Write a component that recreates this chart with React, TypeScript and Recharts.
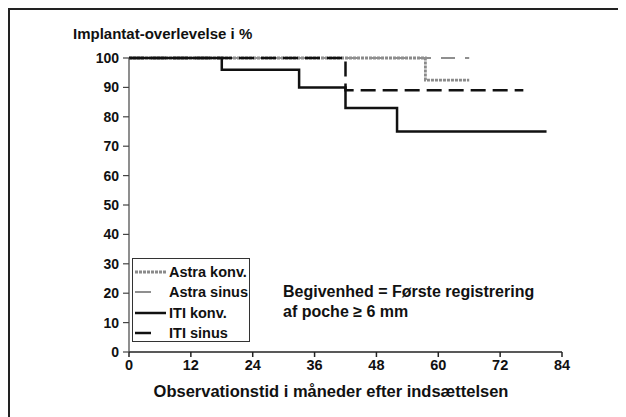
import React from 'react';
import { LineChart, Line, XAxis, YAxis } from 'recharts';

// Kaplan-Meier style survival curves (months, % surviving)
const astraKonvTime = [0, 57.5, 66];
const astraKonvSurv = [100, 92.5, 92.5];
const astraSinusTime = [0, 66];
const astraSinusSurv = [100, 100];
const itiKonvTime = [0, 18, 33, 42, 52, 81];
const itiKonvSurv = [100, 96, 90, 83, 75, 75];
const itiSinusTime = [0, 42, 76.5];
const itiSinusSurv = [100, 89, 89];

const xTicks = [0, 12, 24, 36, 48, 60, 72, 84];
const yTicks = [0, 10, 20, 30, 40, 50, 60, 70, 80, 90, 100];

const toRows = (t: number[], s: number[]) => t.map((m, i) => ({ m, v: s[i] }));

const FONT = '"Liberation Sans", Arial, sans-serif';

const series = [
    { name: 'Astra konv.', data: toRows(astraKonvTime, astraKonvSurv), stroke: '#8a8a8a', width: 2.8, dash: '3 1', sample: 'full' },
    { name: 'Astra sinus', data: toRows(astraSinusTime, astraSinusSurv), stroke: '#8f8f8f', width: 2, dash: '14 10', sample: 'short' },
    { name: 'ITI konv.', data: toRows(itiKonvTime, itiKonvSurv), stroke: '#111', width: 2.5, dash: undefined, sample: 'full' },
    { name: 'ITI sinus', data: toRows(itiSinusTime, itiSinusSurv), stroke: '#111', width: 2.5, dash: '15 7', sample: 'short' },
];

const tickStyle = { fill: '#111', fontSize: 14, fontWeight: 700, fontFamily: FONT };

export default function App() {
    return (
        <div
            style={{
                position: 'relative',
                width: 618,
                height: 409,
                boxSizing: 'border-box',
                borderLeft: '2px solid #222',
                borderTop: '2px solid #222',
                background: '#fff',
                fontFamily: FONT,
                color: '#111',
            }}
        >
            <div style={{ position: 'absolute', left: 63, top: 15, fontSize: 15, fontWeight: 700 }}>
                Implantat-overlevelse i %
            </div>
            <LineChart
                width={600}
                height={400}
                margin={{ top: 48, right: 48, left: 59, bottom: 28 }}
                style={{ position: 'absolute', left: 0, top: 0 }}
            >
                <XAxis
                    dataKey="m"
                    type="number"
                    domain={[0, 84]}
                    ticks={xTicks}
                    allowDuplicatedCategory={false}
                    height={30}
                    tickSize={5}
                    tickMargin={3}
                    stroke="#222"
                    strokeWidth={1.5}
                    tick={{ ...tickStyle, fontSize: 14.5 }}
                />
                <YAxis
                    type="number"
                    domain={[0, 100]}
                    ticks={yTicks}
                    width={60}
                    tickSize={6}
                    tickMargin={4}
                    stroke="#444"
                    strokeWidth={1.2}
                    tick={tickStyle}
                />
                {series.map((s) => (
                    <Line
                        key={s.name}
                        data={s.data}
                        dataKey="v"
                        type="stepAfter"
                        stroke={s.stroke}
                        strokeWidth={s.width}
                        strokeDasharray={s.dash}
                        dot={false}
                        isAnimationActive={false}
                    />
                ))}
            </LineChart>
            <div
                style={{
                    position: 'absolute',
                    left: 122,
                    top: 248,
                    width: 118,
                    height: 84,
                    border: '1.5px solid #333',
                    boxSizing: 'border-box',
                    background: '#fff',
                    padding: '3px 0 0 2px',
                }}
            >
                {series.map((s) => (
                    <div key={s.name} style={{ display: 'flex', alignItems: 'center', height: 20.3, fontSize: 14.5, fontWeight: 700 }}>
                        <svg width={31} height={10} style={{ marginRight: 3 }}>
                            <line
                                x1={0}
                                x2={s.sample === 'full' ? 31 : 16}
                                y1={5}
                                y2={5}
                                stroke={s.stroke}
                                strokeWidth={s.width}
                                strokeDasharray={s.sample === 'full' ? s.dash : undefined}
                            />
                        </svg>
                        {s.name}
                    </div>
                ))}
            </div>
            <div style={{ position: 'absolute', left: 273, top: 272, fontSize: 16, fontWeight: 700, lineHeight: '20px' }}>
                Begivenhed = Første registrering
                <br />
                af poche ≥ 6 mm
            </div>
            <div style={{ position: 'absolute', left: 0, width: 642, top: 372, textAlign: 'center', fontSize: 16.5, fontWeight: 700 }}>
                Observationstid i måneder efter indsættelsen
            </div>
        </div>
    );
}
